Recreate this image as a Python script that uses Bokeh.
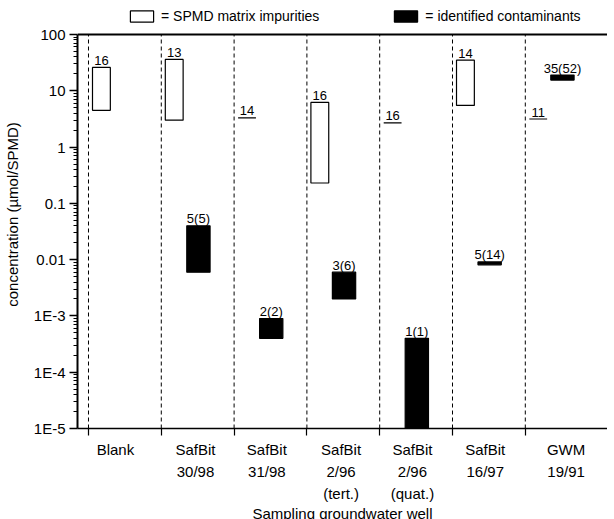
import numpy as np
from bokeh.plotting import figure
from bokeh.models import (Range1d, FixedTicker, Legend, LegendItem, Span, LinearAxis,
                          CustomJSTickFormatter, ColumnDataSource)
from bokeh.core.properties import value
from bokeh.embed import file_html
from bokeh.resources import INLINE

# ---------------- data ----------------
categories = ["Blank", "SafBit\n30/98", "SafBit\n31/98", "SafBit\n2/96\n(tert.)",
              "SafBit\n2/96\n(quat.)", "SafBit\n16/97", "GWM\n19/91"]
label_pos = [0.37, 1.47, 2.45, 3.47, 4.45, 5.45, 6.56]
dividers = [0, 1, 2, 3, 4, 5, 6]

imp_cat = [0, 1, 2, 3, 4, 5, 6]
imp_low = [4.5, 3.0, 3.3, 0.23, 2.7, 5.5, 3.15]
imp_high = [26.0, 36.0, 3.3, 6.2, 2.7, 35.0, 3.15]
imp_n = ["16", "13", "14", "16", "16", "14", "11"]

cont_cat = [1, 2, 3, 4, 5, 6]
cont_low = [0.006, 0.0004, 0.002, 1e-5, 0.0081, 15.5]
cont_high = [0.04, 0.0009, 0.006, 0.0004, 0.0091, 19.0]
cont_n = ["5(5)", "2(2)", "3(6)", "1(1)", "5(14)", "35(52)"]

y_ticks = [1e-5, 1e-4, 1e-3, 0.01, 0.1, 1, 10, 100]

# ---------------- layout / style ----------------
# concentrations are drawn on a log10 scale (decades on a linear axis)
LY = lambda v: np.log10(np.asarray(v, dtype=float))
Y0, Y1 = float(LY(y_ticks[0])), float(LY(y_ticks[-1]))
major = [float(t) for t in LY(y_ticks)]
minor = [float(np.log10(m)) + e for e in major[:-1] for m in range(2, 10)]

FRAME_H = 428
HEADROOM = 34                      # px above the "100" line, used for the legend
PX = (Y1 - Y0) / (FRAME_H - HEADROOM)   # data units per screen pixel
YTOP = Y1 + HEADROOM * PX
LABEL_GAP = 7                      # px between a bar top and its count label

FONT = "Liberation Sans"
W_L, W_R = 0.055, 0.30      # white box offsets inside a category
B_L, B_R = 0.35, 0.67       # black box offsets inside a category

p = figure(frame_width=530, frame_height=FRAME_H, title=None,
           x_range=Range1d(-0.151, 7.129), y_range=Range1d(Y0, YTOP),
           output_backend="svg", toolbar_location=None,
           min_border_left=76, min_border_right=0, min_border_top=0,
           min_border_bottom=0)
p.grid.visible = False
p.outline_line_color = None
p.background_fill_color = "white"
p.border_fill_color = "white"

# dashed category dividers
p.segment(x0=dividers, y0=[Y0] * len(dividers), x1=dividers, y1=[Y1] * len(dividers),
          line_color="black", line_width=1, line_dash="4 3")

ic = np.array(imp_cat, dtype=float)
cc = np.array(cont_cat, dtype=float)

src_imp = ColumnDataSource(dict(left=ic + W_L, right=ic + W_R, bottom=LY(imp_low), top=LY(imp_high),
                                xm=ic + (W_L + W_R) / 2, ty=LY(imp_high) + LABEL_GAP * PX, n=imp_n))
src_con = ColumnDataSource(dict(left=cc + B_L, right=cc + B_R, bottom=LY(cont_low), top=LY(cont_high),
                                xm=cc + (B_L + B_R) / 2, ty=LY(cont_high) + LABEL_GAP * PX, n=cont_n))

r_imp = p.quad(left="left", right="right", bottom="bottom", top="top", source=src_imp,
               fill_color="white", line_color="black", line_width=1.2)
r_con = p.quad(left="left", right="right", bottom="bottom", top="top", source=src_con,
               fill_color="black", line_color="black", line_width=1.2)

for src in (src_imp, src_con):
    p.text(x="xm", y="ty", text="n", source=src, text_align="center",
           text_baseline="alphabetic", text_font=value(FONT),
           text_font_size="13px", text_color="black")

# top frame line at 100
p.add_layout(Span(location=Y1, dimension="width", line_color="black", line_width=2))

# y axis
ya = p.yaxis[0]
ya.bounds = (Y0, Y1)
ya.ticker = FixedTicker(ticks=major, minor_ticks=minor)
ya.formatter = CustomJSTickFormatter(code="""
const e = Math.round(tick);
if (e >= 0) return String(Math.pow(10, e));
if (e >= -2) return Math.pow(10, e).toFixed(-e);
return "1E" + e;
""")
ya.axis_label = "concentration (\u00b5mol/SPMD)"
ya.axis_line_width = 2
ya.major_tick_out = 8
ya.major_tick_in = 0
ya.minor_tick_out = 4
ya.minor_tick_in = 0
ya.major_tick_line_width = 1.5
ya.major_label_standoff = 4
ya.axis_label_standoff = 10
ya.major_label_text_font = FONT
ya.major_label_text_font_size = "15px"
ya.axis_label_text_font = FONT
ya.axis_label_text_font_size = "15px"
ya.axis_label_text_font_style = "normal"
ya.major_label_text_color = "black"
ya.axis_label_text_color = "black"

# x axis: one axis per text row of the category labels
rows = [c.split("\n") for c in categories]
fmt_code = """
let best = 0;
for (let i = 0; i < pos.length; i++) {
  if (Math.abs(pos[i] - tick) < Math.abs(pos[best] - tick)) best = i;
}
return labs[best];
"""
for k in range(3):
    row = [r[k] if len(r) > k else "" for r in rows]
    if k == 0:
        ax = p.xaxis[0]
        ax.axis_line_width = 1.5
        ax.minor_tick_out = 7
        ax.minor_tick_in = 0
        ax.minor_tick_line_width = 1.2
        ax.major_label_standoff = 5
        ax.ticker = FixedTicker(ticks=label_pos, minor_ticks=dividers)
    else:
        ax = LinearAxis(axis_line_color=None, minor_tick_line_color=None,
                        major_tick_line_color=None, major_label_standoff=2)
        ax.ticker = FixedTicker(ticks=label_pos)
        p.add_layout(ax, "below")
    ax.formatter = CustomJSTickFormatter(args=dict(pos=label_pos, labs=row), code=fmt_code)
    ax.major_tick_out = 0
    ax.major_tick_in = 0
    ax.major_label_text_font = FONT
    ax.major_label_text_font_size = "15px"
    ax.major_label_text_color = "black"
    if k == 2:
        ax.axis_label = "Sampling groundwater well"
        ax.axis_label_standoff = 0
        ax.axis_label_text_font = FONT
        ax.axis_label_text_font_size = "15px"
        ax.axis_label_text_font_style = "normal"
        ax.axis_label_text_color = "black"

# legend in the headroom above the "100" line
legend = Legend(items=[LegendItem(label="= SPMD matrix impurities", renderers=[r_imp]),
                       LegendItem(label="= identified contaminants", renderers=[r_con])],
                orientation="horizontal", location=(50, FRAME_H - 24),
                glyph_width=29, glyph_height=14, label_standoff=5, spacing=72,
                padding=0, margin=0, border_line_color=None, background_fill_alpha=0,
                label_text_font=FONT, label_text_font_size="14px", label_text_color="black")
p.add_layout(legend)

open("out.html", "w").write(file_html(p, INLINE))
